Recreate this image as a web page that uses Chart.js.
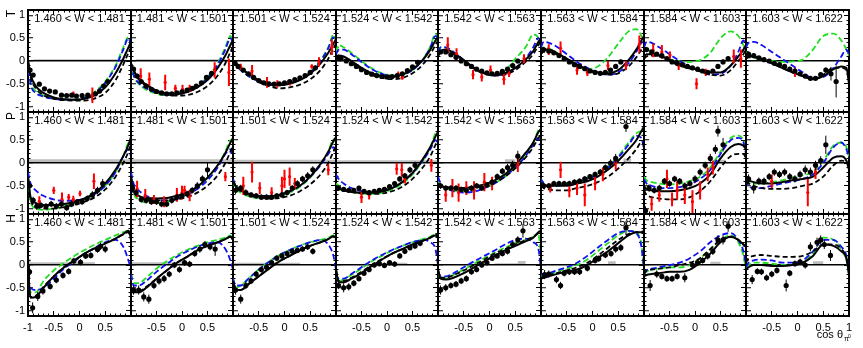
<!DOCTYPE html>
<html>
<head>
<meta charset="utf-8">
<script src="https://cdn.jsdelivr.net/npm/chart.js@4.4.1/dist/chart.umd.min.js"></script>
<style>
  body { margin: 0; background: #fff; width: 863px; height: 348px; position: relative; overflow: hidden; }
  canvas { position: absolute; }
</style>
</head>
<body>
<script>
// W bins (one column each) and observables (one row each)
const wBins = ['1.460 < W < 1.481', '1.481 < W < 1.501', '1.501 < W < 1.524', '1.524 < W < 1.542',
               '1.542 < W < 1.563', '1.563 < W < 1.584', '1.584 < W < 1.603', '1.603 < W < 1.622'];
const rowNames = ['T', 'P', 'H'];

// tick values
const majorTicks = [-1, -0.5, 0, 0.5, 1];
const minorTicks = [-1.1, -0.9, -0.8, -0.7, -0.6, -0.4, -0.3, -0.2, -0.1, 0.1, 0.2, 0.3, 0.4, 0.6, 0.7, 0.8, 0.9, 1.1];

// cos theta where the model curves are sampled
const cosX = [-1, -0.95, -0.85, -0.7, -0.5, -0.3, -0.1, 0.1, 0.3, 0.5, 0.7, 0.85, 0.95, 1];

// ---- T ----
const tSolid = [
  [0,-0.3,-0.55,-0.7,-0.8,-0.84,-0.85,-0.83,-0.75,-0.58,-0.27,0.05,0.3,0.42],
  [-0.05,-0.2,-0.38,-0.52,-0.65,-0.71,-0.72,-0.68,-0.58,-0.42,-0.15,0.12,0.35,0.45],
  [0,-0.05,-0.15,-0.28,-0.42,-0.5,-0.53,-0.5,-0.42,-0.28,-0.05,0.18,0.38,0.48],
  [0.1,0.12,0.1,0,-0.15,-0.27,-0.33,-0.35,-0.3,-0.18,0.02,0.25,0.45,0.52],
  [0.15,0.22,0.25,0.18,0.02,-0.15,-0.27,-0.3,-0.27,-0.15,0.03,0.22,0.42,0.5],
  [0.2,0.25,0.25,0.18,0.05,-0.08,-0.18,-0.25,-0.27,-0.2,0.02,0.25,0.45,0.55],
  [0.1,0.15,0.15,0.12,0.03,-0.08,-0.15,-0.2,-0.25,-0.25,-0.1,0.1,0.25,0.35],
  [0.05,0.1,0.1,0.05,-0.05,-0.15,-0.25,-0.33,-0.4,-0.33,-0.18,-0.12,-0.15,-0.5]
];
const tDash = [
  [0,-0.35,-0.6,-0.75,-0.83,-0.86,-0.87,-0.87,-0.82,-0.7,-0.42,-0.08,0.18,0.3],
  [-0.05,-0.2,-0.4,-0.55,-0.68,-0.74,-0.76,-0.75,-0.68,-0.55,-0.32,-0.05,0.2,0.32],
  [0,-0.05,-0.15,-0.3,-0.46,-0.55,-0.6,-0.58,-0.52,-0.4,-0.2,0.05,0.28,0.38],
  [0.05,0.05,0.03,-0.05,-0.18,-0.3,-0.37,-0.4,-0.37,-0.27,-0.08,0.15,0.35,0.45],
  [0.1,0.18,0.2,0.15,0,-0.17,-0.28,-0.32,-0.3,-0.2,-0.02,0.15,0.35,0.45],
  [0.15,0.2,0.2,0.15,0.03,-0.1,-0.2,-0.27,-0.3,-0.27,-0.12,0.08,0.25,0.32],
  [0.05,0.1,0.12,0.1,0,-0.1,-0.17,-0.23,-0.3,-0.32,-0.2,0,0.15,0.25],
  [0.05,0.08,0.08,0.04,-0.05,-0.15,-0.25,-0.33,-0.4,-0.3,-0.15,-0.15,-0.2,-0.4]
];
const tBlue = [
  [0,-0.5,-0.7,-0.78,-0.83,-0.85,-0.85,-0.81,-0.7,-0.48,-0.13,0.25,0.5,0.35],
  [-0.05,-0.3,-0.48,-0.6,-0.7,-0.74,-0.73,-0.68,-0.57,-0.38,-0.08,0.25,0.5,0.4],
  [0,-0.08,-0.2,-0.33,-0.45,-0.52,-0.53,-0.49,-0.4,-0.25,0,0.28,0.52,0.45],
  [0.15,0.25,0.25,0.15,-0.02,-0.18,-0.28,-0.33,-0.3,-0.2,0.02,0.3,0.55,0.5],
  [0.2,0.3,0.3,0.2,0.02,-0.15,-0.27,-0.32,-0.28,-0.17,0.05,0.3,0.5,0.45],
  [0.3,0.42,0.4,0.32,0.15,-0.02,-0.15,-0.25,-0.3,-0.25,-0.05,0.2,0.4,0.42],
  [0.3,0.42,0.4,0.3,0.15,0,-0.12,-0.22,-0.3,-0.28,-0.1,0.2,0.45,0.35],
  [0.3,0.4,0.42,0.35,0.2,0.05,-0.1,-0.25,-0.37,-0.35,-0.15,0.1,0.25,0.15]
];
const tGreen = [
  [0,-0.45,-0.66,-0.76,-0.82,-0.85,-0.85,-0.8,-0.67,-0.45,-0.1,0.3,0.52,0.35],
  [-0.05,-0.32,-0.5,-0.63,-0.72,-0.75,-0.73,-0.66,-0.55,-0.35,-0.05,0.3,0.55,0.42],
  [0,-0.08,-0.2,-0.33,-0.45,-0.52,-0.53,-0.49,-0.4,-0.24,0.02,0.3,0.58,0.45],
  [0.2,0.35,0.3,0.18,0,-0.16,-0.27,-0.32,-0.3,-0.2,0.03,0.32,0.6,0.5],
  [0.2,0.3,0.3,0.2,0.02,-0.15,-0.26,-0.3,-0.22,0.05,0.3,0.58,0.5,0.3],
  [0.2,0.3,0.28,0.18,0.02,-0.12,-0.18,-0.12,0.08,0.38,0.65,0.7,0.55,0.4],
  [0.25,0.25,0.2,0.12,0.03,-0.01,-0.02,0.02,0.18,0.5,0.65,0.55,0.35,0.25],
  [0.2,0.15,0.08,0.03,0,-0.02,-0.01,0.03,0.25,0.55,0.6,0.45,0.25,0.12]
];
// measured points: [cos theta, value, error]
const tPts = [
  [[-0.96,-0.2,0.04],[-0.9,-0.31,0.04],[-0.78,-0.51,0.03],[-0.68,-0.61,0.03],[-0.58,-0.66,0.03],[-0.47,-0.68,0.03],[-0.35,-0.75,0.03],[-0.25,-0.76,0.03],[-0.15,-0.75,0.03],[-0.06,-0.77,0.03],[0.05,-0.76,0.03],[0.16,-0.75,0.03],[0.31,-0.72,0.04],[0.39,-0.66,0.04],[0.47,-0.55,0.05],[0.55,-0.45,0.05]],
  [[-0.95,-0.18,0.05],[-0.88,-0.33,0.05],[-0.8,-0.45,0.04],[-0.7,-0.55,0.04],[-0.6,-0.62,0.04],[-0.5,-0.67,0.04],[-0.4,-0.7,0.04],[-0.3,-0.72,0.03],[-0.2,-0.72,0.03],[-0.1,-0.7,0.03],[0,-0.68,0.03],[0.1,-0.64,0.04],[0.2,-0.6,0.04],[0.28,-0.55,0.04],[0.38,-0.48,0.04],[0.48,-0.36,0.05],[0.58,-0.27,0.05]],
  [[-0.96,-0.05,0.04],[-0.9,-0.12,0.04],[-0.8,-0.2,0.03],[-0.7,-0.28,0.03],[-0.6,-0.36,0.03],[-0.5,-0.43,0.03],[-0.4,-0.48,0.03],[-0.3,-0.5,0.03],[-0.2,-0.51,0.03],[-0.1,-0.5,0.03],[0,-0.48,0.03],[0.1,-0.45,0.03],[0.2,-0.41,0.03],[0.3,-0.37,0.04],[0.4,-0.32,0.04],[0.5,-0.25,0.04],[0.6,-0.15,0.05]],
  [[-0.96,0.08,0.04],[-0.9,0.05,0.03],[-0.8,0,0.03],[-0.7,-0.06,0.03],[-0.6,-0.12,0.03],[-0.5,-0.19,0.03],[-0.4,-0.25,0.03],[-0.3,-0.29,0.03],[-0.2,-0.32,0.03],[-0.1,-0.34,0.03],[0,-0.35,0.03],[0.1,-0.34,0.03],[0.2,-0.32,0.03],[0.3,-0.28,0.03],[0.4,-0.21,0.04],[0.5,-0.13,0.04],[0.6,-0.03,0.05]],
  [[-0.95,0.2,0.04],[-0.85,0.2,0.04],[-0.75,0.14,0.03],[-0.65,0.08,0.03],[-0.55,0,0.03],[-0.45,-0.06,0.03],[-0.35,-0.12,0.03],[-0.25,-0.18,0.03],[-0.15,-0.22,0.03],[-0.05,-0.26,0.03],[0.05,-0.28,0.03],[0.15,-0.27,0.03],[0.25,-0.23,0.03],[0.35,-0.18,0.04],[0.45,-0.1,0.04],[0.55,0,0.05]],
  [[-0.95,0.25,0.04],[-0.85,0.22,0.04],[-0.75,0.18,0.03],[-0.65,0.12,0.03],[-0.55,0.05,0.03],[-0.45,-0.02,0.03],[-0.35,-0.08,0.03],[-0.25,-0.12,0.03],[-0.15,-0.17,0.03],[-0.05,-0.22,0.03],[0.05,-0.25,0.03],[0.15,-0.27,0.03],[0.25,-0.25,0.03],[0.35,-0.2,0.04],[0.45,-0.12,0.04],[0.55,-0.02,0.05]],
  [[-0.95,0.25,0.04],[-0.85,0.2,0.04],[-0.75,0.15,0.03],[-0.65,0.12,0.03],[-0.55,0.05,0.03],[-0.45,-0.02,0.03],[-0.35,-0.05,0.03],[-0.25,-0.08,0.03],[-0.15,-0.12,0.03],[-0.05,-0.15,0.03],[0.05,-0.18,0.03],[0.15,-0.22,0.03],[0.25,-0.25,0.04],[0.35,-0.22,0.04],[0.45,-0.12,0.04],[0.55,-0.02,0.05],[0.65,0.05,0.05]],
  [[-0.95,0.15,0.04],[-0.85,0.12,0.03],[-0.75,0.07,0.03],[-0.65,0.03,0.03],[-0.55,0,0.03],[-0.45,-0.05,0.03],[-0.35,-0.08,0.03],[-0.25,-0.12,0.03],[-0.15,-0.18,0.03],[-0.05,-0.22,0.03],[0.05,-0.28,0.03],[0.15,-0.33,0.03],[0.25,-0.38,0.04],[0.35,-0.38,0.04],[0.45,-0.3,0.05],[0.55,-0.2,0.06],[0.65,-0.28,0.15],[0.75,-0.45,0.35]]
];
const tRed = [
  [[-0.12,-0.72,0.05],[0.25,-0.75,0.17]],
  [[-0.81,-0.33,0.17],[-0.64,-0.4,0.15],[-0.33,-0.47,0.17],[-0.13,-0.6,0.08],[0.01,-0.62,0.1],[0.15,-0.6,0.08],[0.64,-0.2,0.17],[0.92,-0.25,0.3]],
  [[-0.85,-0.13,0.07],[-0.63,-0.22,0.13],[-0.34,-0.47,0.12],[-0.14,-0.5,0.08],[0.11,-0.47,0.07],[0.53,-0.12,0.05],[0.67,-0.02,0.1],[0.92,0.3,0.17]],
  [[0.22,-0.3,0.07],[0.3,-0.36,0.05]],
  [[-0.81,0.35,0.17],[-0.64,0.15,0.13],[-0.32,-0.3,0.1],[-0.15,-0.35,0.1],[0.02,-0.2,0.1],[0.28,-0.4,0.12],[0.38,-0.28,0.07],[0.67,0.05,0.1]],
  [[-0.85,0.25,0.12],[-0.62,0.28,0.15],[-0.3,-0.2,0.1],[-0.1,-0.25,0.08],[0.3,-0.1,0.1],[0.65,-0.1,0.1],[0.91,0.37,0.19]],
  [[-0.82,0.23,0.15],[-0.65,0.2,0.15],[-0.49,0.13,0.08],[-0.32,-0.1,0.1],[0.03,-0.5,0.12],[0.21,-0.25,0.08],[0.76,0.1,0.15],[0.9,0.05,0.2]],
  [[-0.05,-0.25,0.1]]
];
// systematic bands: [from, to, height]
const tGray = [[[-0.9,0.9,0.04]], [[-0.9,0.9,0.04]], [], [], [], [], [], []];

// ---- P ----
const pSolid = [
  [-0.3,-0.75,-0.88,-0.92,-0.92,-0.9,-0.85,-0.78,-0.65,-0.45,-0.15,0.15,0.4,0.57],
  [-0.3,-0.6,-0.72,-0.77,-0.78,-0.77,-0.72,-0.65,-0.52,-0.32,-0.05,0.22,0.45,0.55],
  [-0.4,-0.5,-0.6,-0.68,-0.73,-0.73,-0.7,-0.62,-0.5,-0.3,-0.02,0.25,0.48,0.57],
  [-0.5,-0.55,-0.6,-0.63,-0.65,-0.65,-0.62,-0.55,-0.42,-0.22,0.08,0.35,0.58,0.68],
  [-0.45,-0.5,-0.53,-0.55,-0.55,-0.52,-0.47,-0.38,-0.25,-0.05,0.22,0.45,0.68,0.75],
  [-0.45,-0.48,-0.5,-0.5,-0.5,-0.45,-0.4,-0.3,-0.15,0.05,0.3,0.5,0.7,0.8],
  [-0.5,-0.58,-0.6,-0.62,-0.62,-0.6,-0.55,-0.45,-0.25,0.1,0.35,0.42,0.38,0.3],
  [-0.35,-0.38,-0.42,-0.45,-0.45,-0.42,-0.38,-0.35,-0.3,-0.1,0.12,0.15,0.05,-0.15]
];
const pDash = [
  [-0.3,-0.8,-0.95,-1.0,-1.0,-0.97,-0.92,-0.85,-0.75,-0.58,-0.3,0,0.25,0.42],
  [-0.3,-0.6,-0.75,-0.8,-0.82,-0.82,-0.8,-0.75,-0.65,-0.5,-0.27,0,0.25,0.38],
  [-0.4,-0.52,-0.62,-0.7,-0.76,-0.78,-0.77,-0.72,-0.62,-0.47,-0.25,0,0.25,0.37],
  [-0.5,-0.55,-0.6,-0.64,-0.67,-0.68,-0.67,-0.62,-0.52,-0.35,-0.1,0.15,0.4,0.52],
  [-0.45,-0.5,-0.53,-0.55,-0.57,-0.55,-0.5,-0.42,-0.3,-0.12,0.12,0.35,0.55,0.62],
  [-0.5,-0.55,-0.58,-0.6,-0.6,-0.55,-0.5,-0.42,-0.3,-0.12,0.1,0.3,0.45,0.4],
  [-0.6,-0.7,-0.75,-0.78,-0.8,-0.8,-0.75,-0.62,-0.4,-0.1,0.15,0.2,0.2,0.1],
  [-0.4,-0.45,-0.5,-0.55,-0.57,-0.57,-0.55,-0.5,-0.45,-0.3,-0.05,0.05,0.02,-0.05]
];
const pBlue = [
  [-0.2,-0.45,-0.6,-0.72,-0.8,-0.83,-0.82,-0.78,-0.68,-0.5,-0.2,0.15,0.3,0.15],
  [-0.2,-0.45,-0.6,-0.72,-0.8,-0.82,-0.78,-0.7,-0.57,-0.38,-0.1,0.2,0.3,0.1],
  [-0.35,-0.5,-0.6,-0.68,-0.72,-0.73,-0.7,-0.62,-0.5,-0.3,-0.05,0.2,0.35,0.2],
  [-0.25,-0.35,-0.45,-0.55,-0.62,-0.65,-0.62,-0.55,-0.42,-0.22,0.05,0.3,0.5,0.45],
  [-0.3,-0.45,-0.55,-0.62,-0.65,-0.63,-0.55,-0.45,-0.3,-0.1,0.15,0.4,0.55,0.35],
  [-0.35,-0.45,-0.5,-0.5,-0.47,-0.42,-0.35,-0.25,-0.1,0.12,0.4,0.6,0.55,0.3],
  [-0.35,-0.45,-0.5,-0.55,-0.55,-0.53,-0.47,-0.35,-0.15,0.2,0.5,0.55,0.45,0.2],
  [-0.35,-0.5,-0.55,-0.55,-0.5,-0.45,-0.4,-0.35,-0.25,0,0.35,0.45,0.3,0.1]
];
const pGreen = [
  [-0.3,-0.85,-1.0,-1.03,-1.0,-0.95,-0.88,-0.8,-0.68,-0.5,-0.2,0.15,0.45,0.5],
  [-0.3,-0.65,-0.8,-0.87,-0.88,-0.85,-0.78,-0.68,-0.53,-0.33,-0.05,0.25,0.5,0.45],
  [-0.4,-0.55,-0.65,-0.73,-0.77,-0.77,-0.73,-0.65,-0.52,-0.32,-0.03,0.25,0.52,0.45],
  [-0.45,-0.5,-0.57,-0.63,-0.67,-0.68,-0.65,-0.58,-0.45,-0.25,0.05,0.35,0.65,0.72],
  [-0.4,-0.5,-0.55,-0.6,-0.62,-0.6,-0.55,-0.45,-0.3,-0.08,0.2,0.45,0.72,0.8],
  [-0.35,-0.45,-0.48,-0.48,-0.45,-0.4,-0.33,-0.22,-0.07,0.15,0.45,0.65,0.7,0.6],
  [-0.3,-0.38,-0.42,-0.45,-0.47,-0.45,-0.4,-0.3,-0.1,0.25,0.55,0.6,0.5,0.3],
  [-0.35,-0.42,-0.45,-0.45,-0.42,-0.38,-0.32,-0.27,-0.2,0.05,0.38,0.45,0.35,0.15]
];
const pPts = [
  [[-0.97,-0.5,0.1],[-0.9,-0.82,0.08],[-0.83,-0.95,0.08],[-0.75,-0.93,0.07],[-0.65,-0.95,0.07],[-0.55,-0.9,0.07],[-0.45,-0.95,0.07],[-0.35,-0.9,0.07],[-0.25,-0.98,0.07],[-0.15,-0.9,0.07],[-0.05,-0.86,0.07],[0.05,-0.85,0.07],[0.15,-0.78,0.07],[0.25,-0.7,0.08],[0.35,-0.6,0.08],[0.45,-0.45,0.1]],
  [[-0.97,-0.55,0.1],[-0.9,-0.65,0.08],[-0.8,-0.8,0.07],[-0.7,-0.82,0.07],[-0.6,-0.85,0.07],[-0.5,-0.85,0.07],[-0.4,-0.9,0.07],[-0.3,-0.9,0.07],[-0.2,-0.82,0.07],[-0.1,-0.75,0.07],[0,-0.72,0.07],[0.1,-0.68,0.07],[0.2,-0.6,0.07],[0.3,-0.5,0.08],[0.4,-0.35,0.08],[0.5,-0.15,0.15]],
  [[-0.95,-0.6,0.08],[-0.85,-0.55,0.07],[-0.75,-0.65,0.07],[-0.65,-0.7,0.06],[-0.55,-0.72,0.06],[-0.45,-0.75,0.06],[-0.35,-0.75,0.06],[-0.25,-0.75,0.06],[-0.15,-0.72,0.06],[-0.05,-0.7,0.06],[0.05,-0.65,0.06],[0.15,-0.55,0.06],[0.25,-0.45,0.07],[0.35,-0.35,0.07],[0.45,-0.28,0.08],[0.55,-0.15,0.08]],
  [[-0.95,-0.55,0.06],[-0.85,-0.58,0.05],[-0.75,-0.6,0.05],[-0.65,-0.6,0.05],[-0.55,-0.55,0.05],[-0.45,-0.62,0.05],[-0.35,-0.65,0.05],[-0.25,-0.62,0.05],[-0.15,-0.6,0.05],[-0.05,-0.58,0.05],[0.05,-0.52,0.05],[0.15,-0.45,0.05],[0.25,-0.35,0.06],[0.35,-0.28,0.06],[0.45,-0.15,0.07],[0.55,-0.05,0.08]],
  [[-0.95,-0.5,0.07],[-0.85,-0.55,0.06],[-0.75,-0.55,0.06],[-0.65,-0.55,0.06],[-0.55,-0.58,0.06],[-0.45,-0.6,0.06],[-0.35,-0.55,0.06],[-0.25,-0.5,0.06],[-0.15,-0.55,0.06],[-0.05,-0.48,0.06],[0.05,-0.42,0.06],[0.15,-0.3,0.07],[0.25,-0.18,0.07],[0.35,-0.1,0.08],[0.45,-0.05,0.1],[0.55,0.15,0.12]],
  [[-0.95,-0.5,0.07],[-0.85,-0.5,0.06],[-0.75,-0.45,0.06],[-0.65,-0.45,0.06],[-0.55,-0.45,0.06],[-0.45,-0.45,0.06],[-0.35,-0.42,0.06],[-0.25,-0.4,0.06],[-0.15,-0.35,0.06],[-0.05,-0.3,0.06],[0.05,-0.25,0.06],[0.15,-0.2,0.07],[0.25,-0.1,0.07],[0.35,0,0.08],[0.45,0.1,0.1],[0.65,0.8,0.12]],
  [[-0.97,-1.05,0.1],[-0.9,-0.55,0.08],[-0.8,-0.6,0.07],[-0.7,-0.55,0.07],[-0.6,-0.4,0.07],[-0.5,-0.45,0.07],[-0.4,-0.35,0.07],[-0.3,-0.4,0.07],[-0.2,-0.5,0.07],[-0.1,-0.45,0.07],[0,-0.35,0.08],[0.1,-0.2,0.08],[0.2,-0.05,0.08],[0.3,0.1,0.1],[0.4,0.3,0.1],[0.45,0.7,0.12],[0.55,0.4,0.15]],
  [[-0.95,-0.35,0.1],[-0.85,-0.55,0.12],[-0.75,-0.4,0.08],[-0.65,-0.4,0.08],[-0.55,-0.3,0.08],[-0.45,-0.2,0.08],[-0.35,-0.25,0.08],[-0.25,-0.2,0.08],[-0.15,-0.3,0.08],[-0.05,-0.35,0.08],[0.05,-0.25,0.08],[0.15,-0.15,0.1],[0.25,-0.2,0.1],[0.35,-0.05,0.1],[0.45,0.05,0.1],[0.55,0.4,0.2]]
];
const pRed = [
  [[-0.78,-0.84,0.11],[-0.5,-0.6,0.08],[-0.34,-0.8,0.15],[-0.21,-0.75,0.07],[-0.12,-0.8,0.08],[0.01,-0.67,0.06],[0.28,-0.4,0.17]],
  [[-0.88,-0.57,0.18],[-0.72,-0.72,0.15],[-0.55,-0.8,0.1],[-0.35,-0.85,0.12],[-0.1,-0.7,0.15],[0,-0.65,0.15],[0.05,-0.6,0.1],[0.15,-0.72,0.12],[0.85,-0.3,0.1]],
  [[-0.8,-0.5,0.2],[-0.63,-0.2,0.23],[-0.48,-0.55,0.13],[-0.25,-0.65,0.12],[-0.05,-0.5,0.2],[0,-0.35,0.2],[0.1,-0.3,0.2],[0.2,-0.45,0.12],[0.85,-0.15,0.12]],
  [[-0.5,-0.75,0.13],[-0.35,-0.7,0.1],[0.19,-0.13,0.13],[0.29,-0.15,0.15],[0.35,-0.35,0.1],[0.87,-0.05,0.14]],
  [[-0.85,-0.7,0.15],[-0.72,-0.55,0.2],[-0.6,-0.65,0.2],[-0.45,-0.55,0.15],[-0.3,-0.6,0.2],[-0.1,-0.42,0.2],[0.05,-0.45,0.15],[0.55,-0.05,0.15]],
  [[-0.82,-0.55,0.1],[-0.62,-0.15,0.18],[-0.45,-0.6,0.15],[-0.3,-0.55,0.15],[-0.15,-0.7,0.25],[0.05,-0.45,0.15],[0.2,-0.25,0.15],[0.45,0,0.15]],
  [[-0.85,-0.9,0.15],[-0.7,-0.7,0.15],[-0.55,-0.35,0.2],[-0.45,-0.8,0.15],[-0.35,-0.6,0.2],[-0.2,-0.7,0.2],[-0.05,-0.85,0.25],[0.1,-0.6,0.2],[0.25,-0.25,0.15],[0.35,-0.1,0.15]],
  [[-0.5,-0.4,0.15],[0.2,-0.65,0.3],[0.35,-0.2,0.15]]
];
const pGray = [[[-1,1,0.08]], [[-1,1,0.08]], [[-1,1,0.07]], [[-1,1,0.06]],
               [[0.3,0.5,0.08]], [[0.6,0.75,0.1]], [[0.35,0.6,0.07]], [[0.45,0.6,0.06]]];

// ---- H ----
const hSolid = [
  [-0.1,-0.72,-0.7,-0.5,-0.25,-0.05,0.1,0.25,0.37,0.47,0.58,0.68,0.75,0.6],
  [-0.6,-0.6,-0.6,-0.5,-0.3,-0.12,0.05,0.18,0.32,0.42,0.5,0.57,0.62,0.55],
  [-0.35,-0.55,-0.55,-0.42,-0.25,-0.08,0.08,0.2,0.32,0.42,0.5,0.57,0.63,0.6],
  [-0.1,-0.38,-0.38,-0.3,-0.18,-0.02,0.12,0.25,0.35,0.45,0.53,0.6,0.65,0.6],
  [-0.1,-0.3,-0.32,-0.28,-0.18,-0.05,0.08,0.2,0.32,0.42,0.52,0.6,0.72,0.75],
  [-0.3,-0.28,-0.25,-0.2,-0.15,-0.1,0,0.15,0.3,0.48,0.65,0.72,0.72,0.75],
  [-0.25,-0.22,-0.2,-0.18,-0.15,-0.15,-0.1,0.05,0.25,0.5,0.62,0.55,0.45,0.4],
  [-0.1,-0.05,0,0,-0.02,-0.02,0,0.05,0.2,0.45,0.42,0.3,0.15,-0.2]
];
const hDash = [
  [-0.1,-0.7,-0.68,-0.48,-0.25,-0.05,0.1,0.25,0.37,0.48,0.58,0.67,0.72,0.55],
  [-0.55,-0.58,-0.58,-0.48,-0.3,-0.12,0.05,0.18,0.32,0.42,0.5,0.57,0.62,0.55],
  [-0.35,-0.55,-0.55,-0.42,-0.25,-0.08,0.08,0.2,0.32,0.42,0.5,0.57,0.63,0.6],
  [-0.1,-0.35,-0.35,-0.28,-0.15,0,0.13,0.25,0.35,0.45,0.53,0.6,0.67,0.6],
  [-0.1,-0.28,-0.28,-0.22,-0.12,0,0.12,0.25,0.35,0.45,0.55,0.62,0.7,0.72],
  [-0.28,-0.25,-0.22,-0.18,-0.12,-0.05,0.05,0.2,0.38,0.55,0.68,0.72,0.72,0.75],
  [-0.2,-0.12,-0.1,-0.08,-0.05,0,0.05,0.15,0.35,0.55,0.62,0.55,0.45,0.4],
  [0.05,0.15,0.2,0.22,0.2,0.18,0.18,0.2,0.3,0.45,0.45,0.35,0.15,-0.2]
];
const hBlue = [
  [-0.3,-0.5,-0.55,-0.5,-0.3,-0.08,0.08,0.25,0.38,0.5,0.55,0.4,0.1,-0.1],
  [-0.2,-0.45,-0.45,-0.35,-0.15,0.02,0.18,0.3,0.4,0.47,0.5,0.35,0.1,-0.1],
  [-0.3,-0.45,-0.45,-0.3,-0.1,0.07,0.22,0.33,0.42,0.5,0.55,0.45,0.2,-0.1],
  [-0.2,-0.3,-0.3,-0.2,-0.05,0.1,0.22,0.33,0.42,0.5,0.55,0.5,0.35,0],
  [-0.15,-0.25,-0.25,-0.18,-0.05,0.08,0.2,0.32,0.45,0.55,0.58,0.5,0.35,-0.1],
  [-0.2,-0.2,-0.18,-0.12,-0.05,0.05,0.2,0.38,0.55,0.7,0.75,0.7,0.4,-0.1],
  [-0.2,-0.12,-0.08,-0.05,0,0.05,0.15,0.3,0.5,0.65,0.7,0.55,0.3,0],
  [-0.05,0.05,0.1,0.12,0.1,0.05,0.05,0.1,0.3,0.55,0.55,0.4,0.2,-0.2]
];
const hGreen = [
  [-0.3,-0.6,-0.6,-0.35,-0.12,0.05,0.2,0.33,0.45,0.55,0.65,0.72,0.75,0.6],
  [-0.2,-0.4,-0.4,-0.28,-0.08,0.08,0.22,0.33,0.42,0.5,0.55,0.6,0.65,0.55],
  [-0.3,-0.5,-0.45,-0.3,-0.1,0.08,0.22,0.33,0.43,0.5,0.55,0.6,0.65,0.55],
  [-0.2,-0.35,-0.32,-0.22,-0.08,0.08,0.2,0.32,0.42,0.5,0.57,0.62,0.68,0.6],
  [-0.15,-0.3,-0.3,-0.22,-0.1,0.03,0.15,0.27,0.38,0.48,0.55,0.62,0.68,0.2],
  [-0.25,-0.25,-0.22,-0.15,-0.08,0,0.12,0.3,0.48,0.65,0.75,0.72,0.45,-0.1],
  [-0.2,-0.15,-0.1,-0.08,-0.05,-0.05,0,0.15,0.35,0.55,0.65,0.5,0.2,-0.1],
  [-0.05,0,0.05,0.05,0.03,0,0,0.05,0.25,0.6,0.55,0.35,0.1,-0.2]
];
const hPts = [
  [[-0.97,-0.15,0.15],[-0.91,-0.94,0.12],[-0.81,-0.69,0.1],[-0.71,-0.57,0.08],[-0.57,-0.47,0.07],[-0.45,-0.33,0.07],[-0.32,-0.23,0.07],[-0.21,-0.14,0.07],[-0.11,0.09,0.07],[0.02,0.06,0.07],[0.12,0.2,0.07],[0.22,0.21,0.07],[0.35,0.34,0.07],[0.41,0.41,0.08],[0.5,0.35,0.08]],
  [[-0.95,-0.55,0.1],[-0.85,-0.55,0.1],[-0.75,-0.7,0.1],[-0.65,-0.75,0.1],[-0.55,-0.45,0.08],[-0.45,-0.35,0.08],[-0.35,-0.3,0.08],[-0.25,-0.2,0.07],[-0.15,0,0.07],[-0.05,-0.1,0.07],[0.05,0.05,0.07],[0.15,0.02,0.07],[0.25,0.25,0.07],[0.35,0.35,0.08],[0.45,0.45,0.08],[0.55,0.4,0.08],[0.65,0.35,0.15]],
  [[-0.95,-0.55,0.1],[-0.85,-0.75,0.1],[-0.75,-0.45,0.08],[-0.65,-0.35,0.07],[-0.55,-0.2,0.07],[-0.45,-0.1,0.07],[-0.35,-0.05,0.06],[-0.25,0.05,0.06],[-0.15,0.15,0.06],[-0.05,0.2,0.06],[0.05,0.25,0.06],[0.15,0.3,0.06],[0.25,0.32,0.06],[0.35,0.35,0.06],[0.45,0.4,0.07],[0.55,0.3,0.07]],
  [[-0.95,-0.45,0.08],[-0.85,-0.5,0.1],[-0.75,-0.48,0.08],[-0.65,-0.4,0.07],[-0.55,-0.3,0.06],[-0.45,-0.18,0.06],[-0.35,-0.1,0.06],[-0.25,0,0.06],[-0.15,0.03,0.06],[-0.05,-0.01,0.06],[0.05,0.05,0.06],[0.15,0.02,0.06],[0.25,0.2,0.06],[0.35,0.3,0.06],[0.45,0.38,0.06],[0.55,0.42,0.07],[0.65,0.48,0.07]],
  [[-0.95,-0.55,0.1],[-0.85,-0.5,0.08],[-0.75,-0.45,0.07],[-0.65,-0.42,0.07],[-0.55,-0.35,0.07],[-0.45,-0.3,0.07],[-0.35,-0.15,0.06],[-0.25,-0.1,0.06],[-0.15,0,0.06],[-0.05,0.05,0.06],[0.05,0.15,0.06],[0.15,0.2,0.06],[0.25,0.25,0.06],[0.35,0.3,0.07],[0.45,0.45,0.07],[0.55,0.55,0.08],[0.65,0.75,0.15]],
  [[-0.93,-0.21,0.1],[-0.85,-0.2,0.08],[-0.7,-0.32,0.08],[-0.62,-0.45,0.08],[-0.55,-0.18,0.07],[-0.45,-0.15,0.07],[-0.35,-0.15,0.07],[-0.25,-0.15,0.07],[-0.1,-0.07,0.07],[0.05,0.1,0.07],[0.12,0.14,0.07],[0.25,0.22,0.07],[0.36,0.25,0.07],[0.45,0.35,0.08],[0.55,0.38,0.08],[0.65,0.82,0.15]],
  [[-0.88,-0.45,0.12],[-0.75,-0.2,0.08],[-0.65,-0.25,0.07],[-0.55,-0.3,0.07],[-0.45,-0.3,0.07],[-0.35,-0.25,0.07],[-0.2,-0.28,0.1],[-0.05,0,0.07],[0.05,0.05,0.07],[0.15,0.1,0.07],[0.25,0.2,0.08],[0.35,0.3,0.08],[0.45,0.55,0.1],[0.55,0.55,0.1],[0.65,0.85,0.12]],
  [[-0.88,-0.32,0.1],[-0.78,-0.14,0.07],[-0.7,-0.15,0.07],[-0.6,-0.28,0.07],[-0.5,-0.2,0.07],[-0.4,-0.12,0.07],[-0.22,-0.45,0.13],[-0.15,-0.18,0.07],[-0.05,0.03,0.07],[0.05,0.07,0.07],[0.15,0,0.08],[0.25,0.4,0.1],[0.38,0.5,0.1],[0.45,0.55,0.1],[0.52,0.45,0.1],[0.64,0.21,0.12]]
];
const hRed = [[], [], [], [], [], [], [], []];
const hGray = [[[-1,-0.95,0.14],[-0.95,0.3,0.06]], [[-1,0.2,0.06]], [[-1,0.3,0.05]], [[-0.2,0.4,0.05]],
               [[0.1,0.55,0.04],[0.55,0.7,0.09]], [[0.3,0.45,0.08]], [[0.3,0.5,0.07]], [[0.3,0.5,0.08]]];

const rows = [
  [tSolid, tDash, tBlue, tGreen, tPts, tRed, tGray],
  [pSolid, pDash, pBlue, pGreen, pPts, pRed, pGray],
  [hSolid, hDash, hBlue, hGreen, hPts, hRed, hGray]
];

// frame layout in page pixels
const frameLeft = 28, frameW = 102.6, frameTop = 10, frameH = 102;
const yLo = -1.12, yHi = 1.12;
const fontFam = "'Liberation Sans', Arial, sans-serif";

function curve(vals) {
  return cosX.map((x, i) => ({x: x, y: vals[i]}));
}
function markers(pts) {
  return pts.map(p => ({x: p[0], y: p[1]}));
}
// vertical error bars as separate segments
function errBars(pts) {
  let out = [];
  pts.forEach(p => {
    out.push({x: p[0], y: p[1] - p[2]}, {x: p[0], y: p[1] + p[2]}, {x: p[0], y: null});
  });
  return out;
}
function grayFill(segs) {
  let out = [{x: -1, y: 0}];
  segs.forEach(s => out.push({x: s[0], y: 0}, {x: s[0], y: s[2]}, {x: s[1], y: s[2]}, {x: s[1], y: 0}));
  out.push({x: 1, y: 0});
  return out;
}

function axis(pos, vals, len, size, weight, extra) {
  const isX = pos == 'top' || pos == 'bottom';
  return Object.assign({
    type: 'linear', axis: isX ? 'x' : 'y', position: pos,
    min: isX ? -1 : yLo, max: isX ? 1 : yHi,
    weight: weight,
    afterBuildTicks: s => {
      s.ticks = vals.filter(v => v >= s.min && v <= s.max).map(v => ({value: v}));
    },
    afterFit: s => {
      if (isX) s.height = size; else s.width = size;
      s.paddingLeft = s.paddingRight = s.paddingTop = s.paddingBottom = 0;
    },
    border: {display: false},
    grid: {drawOnChartArea: false, tickLength: -len, tickColor: '#000', tickWidth: 1},
    ticks: {display: false}
  }, extra || {});
}

const frameBorder = {display: true, color: '#000', width: 2};

// panel label and x-axis title
const panelText = {
  id: 'panelText',
  afterDatasetsDraw(chart, args, opts) {
    const a = chart.chartArea, ctx = chart.ctx;
    ctx.save();
    ctx.fillStyle = '#000';
    ctx.font = '11px ' + fontFam;
    ctx.textAlign = 'center';
    ctx.textBaseline = 'top';
    ctx.fillText(opts.text, (a.left + a.right) / 2, a.top + 3);
    if (opts.axisTitle) {
      ctx.textAlign = 'right';
      ctx.textBaseline = 'alphabetic';
      ctx.font = '11px ' + fontFam;
      ctx.fillText('cos θ', a.right - 6, a.bottom + 22);
      ctx.textAlign = 'left';
      ctx.font = '7px ' + fontFam;
      ctx.fillText('π', a.right - 5, a.bottom + 25);
      ctx.font = '5px ' + fontFam;
      ctx.fillText('0', a.right - 1, a.bottom + 22);
    }
    ctx.restore();
  }
};

function makePanel(r, c) {
  const [solid, dash, blue, green, pts, red, gray] = rows[r];
  const x0 = Math.round(frameLeft + c * frameW), x1 = Math.round(frameLeft + (c + 1) * frameW);
  const y0 = frameTop + r * frameH;
  const mL = c == 0 ? 28 : 4, mR = 4, mT = 4, mB = r == 2 ? 34 : 4;
  const cv = document.createElement('canvas');
  cv.width = (x1 - x0) + mL + mR;
  cv.height = frameH + mT + mB;
  cv.style.left = (x0 - mL) + 'px';
  cv.style.top = (y0 - mT) + 'px';
  document.body.appendChild(cv);

  const tickFont = {family: fontFam, size: 11};
  const xLabel = v => {
    if (v == -1 && c != 0) return '';
    if (v == 1 && c != 7) return '';
    return String(v);
  };

  new Chart(cv, {
    type: 'scatter',
    data: {
      datasets: [
        {data: markers(pts[c]), pointRadius: 2.6, pointBackgroundColor: '#000', pointBorderWidth: 0},
        {data: errBars(pts[c]), showLine: true, borderColor: '#000', borderWidth: 1, pointRadius: 0, spanGaps: false},
        {data: markers(red[c]), pointRadius: 1.6, pointBackgroundColor: '#ff0000', pointBorderWidth: 0},
        {data: errBars(red[c]), showLine: true, borderColor: '#ff0000', borderWidth: 2, pointRadius: 0, spanGaps: false},
        {data: curve(solid[c]), showLine: true, borderColor: '#000', borderWidth: 2, pointRadius: 0, cubicInterpolationMode: 'monotone'},
        {data: curve(dash[c]), showLine: true, borderColor: '#000', borderWidth: 1.8, borderDash: [5, 3], pointRadius: 0, cubicInterpolationMode: 'monotone'},
        {data: curve(blue[c]), showLine: true, borderColor: '#1010f0', borderWidth: 1.8, borderDash: [6, 3], pointRadius: 0, cubicInterpolationMode: 'monotone'},
        {data: curve(green[c]), showLine: true, borderColor: '#22dd22', borderWidth: 1.8, borderDash: [6, 3], pointRadius: 0, cubicInterpolationMode: 'monotone'},
        {data: grayFill(gray[c]), showLine: true, borderWidth: 0, borderColor: 'rgba(0,0,0,0)', backgroundColor: '#bdbdbd', fill: 'origin', pointRadius: 0}
      ].map(d => Object.assign({xAxisID: 'x', yAxisID: 'y'}, d))
    },
    options: {
      responsive: false,
      animation: false,
      events: [],
      layout: {padding: 0},
      plugins: {
        legend: {display: false},
        tooltip: {enabled: false},
        filler: {drawTime: 'beforeDraw'},
        panelText: {text: wBins[c], axisTitle: r == 2 && c == 7}
      },
      scales: {
        x: axis('bottom', majorTicks, 5, mB, 1, {
          border: frameBorder,
          ticks: {display: r == 2, font: tickFont, color: '#000', padding: 10, maxRotation: 0, autoSkip: false, callback: xLabel}
        }),
        xm: axis('bottom', minorTicks, 2.5, 0, 0),
        xt: axis('top', majorTicks, 5, mT, 1, {border: frameBorder}),
        xtm: axis('top', minorTicks, 2.5, 0, 0),
        y: axis('left', majorTicks, 5, mL, 1, {
          border: frameBorder,
          grid: {
            drawOnChartArea: true, tickLength: -5, tickColor: '#000', tickWidth: 1, lineWidth: 1.5,
            color: ctx => (ctx.tick && ctx.tick.value === 0) ? '#000' : 'rgba(0,0,0,0)'
          },
          ticks: {display: c == 0, font: tickFont, color: '#000', padding: 8, autoSkip: false, callback: v => String(v)},
          title: {display: c == 0, text: rowNames[r], align: 'end', color: '#000', font: {family: fontFam, size: 12}, padding: {top: 4, bottom: 0}}
        }),
        ym: axis('left', minorTicks, 2.5, 0, 0),
        yr: axis('right', majorTicks, 5, mR, 1, {border: frameBorder}),
        yrm: axis('right', minorTicks, 2.5, 0, 0)
      }
    },
    plugins: [panelText]
  });
}

for (let r = 0; r < 3; r++) {
  for (let c = 0; c < 8; c++) makePanel(r, c);
}
</script>
</body>
</html>
